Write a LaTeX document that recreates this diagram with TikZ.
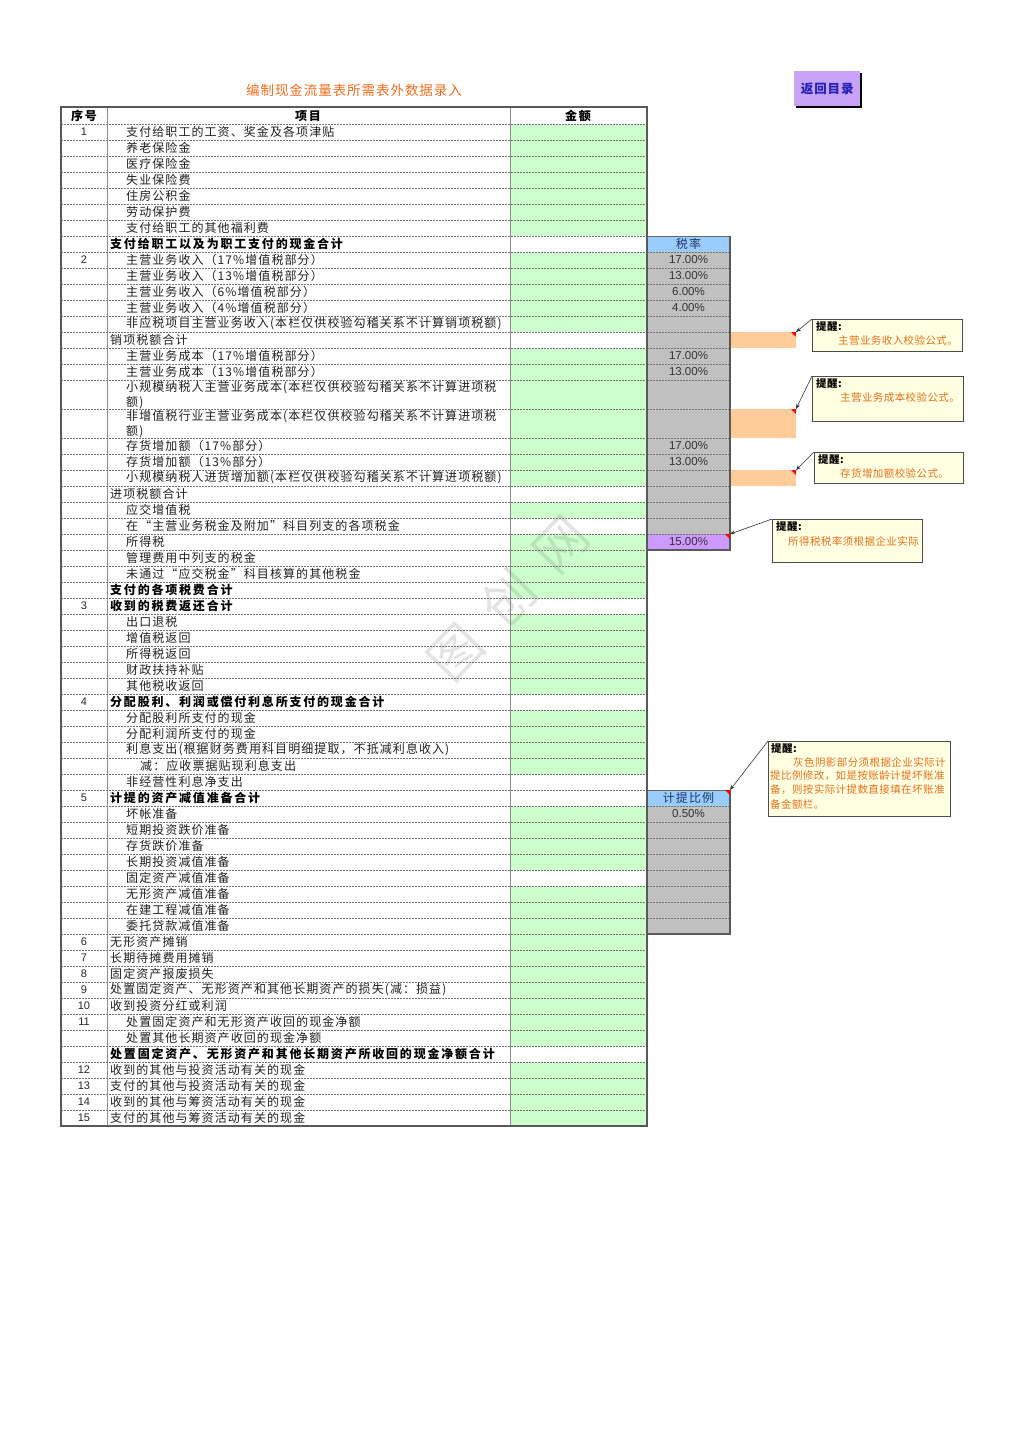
\documentclass[tikz,border=0pt]{standalone}
\usepackage{fontspec}
\setmainfont{Liberation Sans}
\newfontfamily\cjk{Noto Sans CJK SC}[LetterSpace=9]
\newfontfamily\cjkB{Noto Sans CJK SC}[LetterSpace=15]
\newfontfamily\cjkT{Noto Sans CJK SC}[LetterSpace=7]
\newfontfamily\cjkC{Noto Sans CJK SC}[LetterSpace=4]
\newfontfamily\cjkW{Noto Sans CJK SC}[LetterSpace=45]
\usetikzlibrary{arrows.meta}
\definecolor{amtgreen}{HTML}{CCFFCC}
\definecolor{taxgray}{HTML}{C0C0C0}
\definecolor{hdrblue}{HTML}{99CCFF}
\definecolor{purp}{HTML}{CC99FF}
\definecolor{btnpurp}{HTML}{C9A3F7}
\definecolor{orangecell}{HTML}{FFCC99}
\definecolor{titleor}{HTML}{F26B1D}
\definecolor{noteor}{HTML}{E5701E}
\definecolor{notebg}{HTML}{FFFFE1}
\definecolor{navy}{HTML}{1F3864}
\definecolor{btnblue}{HTML}{2222BB}
\tikzset{
  rowt/.style={anchor=west, inner sep=0pt, font=\cjk\fontsize{12}{15}\selectfont, text=black!88},
  rowtwo/.style={anchor=west, inner sep=0pt, align=left, font=\cjk\fontsize{12}{15}\selectfont, text=black!88},
  rowb/.style={anchor=west, inner sep=0pt, font=\cjkB\bfseries\fontsize{12}{15}\selectfont, text=black},
  numt/.style={inner sep=0pt, font=\fontsize{11}{12}\selectfont, text=black!85},
  hdrt/.style={inner sep=0pt, font=\cjkB\bfseries\fontsize{12}{13}\selectfont, text=black},
  pct/.style={inner sep=0pt, font=\fontsize{11.5}{13}\selectfont, text=black!80},
  colhdr/.style={inner sep=0pt, font=\cjk\fontsize{12}{13}\selectfont, text=navy},
  hline/.style={black!55, dash pattern=on 2pt off 1pt, line width=0.6pt},
  vline/.style={black!45, line width=0.8pt},
  frame/.style={black!65, line width=1.8pt},
  cbox/.style={draw=black!70, fill=notebg, line width=0.8pt, anchor=north west, inner sep=0pt},
  ctitle/.style={anchor=west, inner sep=0pt, font=\cjkC\bfseries\fontsize{10.5}{12}\selectfont, text=black},
  ctext/.style={anchor=west, inner sep=0pt, font=\cjkC\fontsize{10.5}{12}\selectfont, text=noteor},
  arr/.style={-{Stealth[length=5pt,width=4pt]}, black!80, line width=0.6pt},
  ind/.style={red}
}
\begin{document}
\begin{tikzpicture}[x=1pt,y=-1pt]
\useasboundingbox (0,0) rectangle (1024,1449);

% ---------- title and button ----------
\node[font=\cjkT\fontsize{13.5}{15}\selectfont, text=titleor, inner sep=0pt] (title) at (354,90) {编制现金流量表所需表外数据录入};
\fill[black] (796,73) rectangle (862,108);
\node[fill=btnpurp, minimum width=66pt, minimum height=35pt, inner sep=0pt, anchor=north west,
      font=\cjkT\bfseries\fontsize{12.5}{14}\selectfont, text=btnblue] (btn) at (794,71) {返回目录};

% ---------- fills ----------
\fill[amtgreen] (510,124) rectangle (647,1126);
\foreach \a/\b in {236/252,332/348,486/502,518/534,598/614,694/710,774/790,790/806,870/886,1046/1062}
  \fill[white] (510,\a) rectangle (647,\b);
% tax rate column
\fill[hdrblue] (647,236) rectangle (730,252);
\fill[taxgray] (647,252) rectangle (730,534);
\fill[purp] (647,534) rectangle (730,550);
% provision ratio column
\fill[hdrblue] (647,790) rectangle (730,806);
\fill[taxgray] (647,806) rectangle (730,934);
% orange check cells
\fill[orangecell] (730,332) rectangle (796,348);
\fill[orangecell] (730,409) rectangle (796,438);
\fill[orangecell] (730,470) rectangle (796,486);

% ---------- watermark ----------
\node[rotate=46, font=\cjkW\fontsize{52}{52}\selectfont, text=gray, opacity=0.22, inner sep=0pt] (wm) at (508,598) {图创网};

% ---------- grid lines ----------
\foreach \y in {124,140,...,380,409,438,454,470,...,1110}
  \draw[hline] (61,\y) -- (647,\y);
\foreach \y in {252,268,...,380,409,438,454,470,...,534,806,822,...,918}
  \draw[hline] (647,\y) -- (730,\y);
\draw[vline] (107,107) -- (107,1126);
\draw[vline] (510,107) -- (510,1126);
\draw[black!60, line width=0.6pt] (647,236) -- (730,236);
\draw[black!60, line width=0.6pt] (647,790) -- (730,790);
\draw[frame] (730,236) -- (730,550) -- (647,550);
\draw[frame] (730,790) -- (730,934) -- (647,934);
\draw[frame] (61,107) rectangle (647,1126);

% ---------- header ----------
\node[hdrt] (h1) at (84,116) {序号};
\node[hdrt] (h2) at (308,116) {项目};
\node[hdrt] (h3) at (578,116) {金额};
\node[colhdr] (h4) at (688.5,244) {税率};
\node[colhdr] (h5) at (688.5,798) {计提比例};

% ---------- numbers ----------
\node[numt] (n1) at (84,132) {1};
\node[numt] (n2) at (84,260) {2};
\node[numt] (n3) at (84,606) {3};
\node[numt] (n4) at (84,702) {4};
\node[numt] (n5) at (84,798) {5};
\node[numt] (n6) at (84,942) {6};
\node[numt] (n7) at (84,958) {7};
\node[numt] (n8) at (84,974) {8};
\node[numt] (n9) at (84,990) {9};
\node[numt] (n10) at (84,1006) {10};
\node[numt] (n11) at (84,1022) {11};
\node[numt] (n12) at (84,1070) {12};
\node[numt] (n13) at (84,1086) {13};
\node[numt] (n14) at (84,1102) {14};
\node[numt] (n15) at (84,1118) {15};

% ---------- items ----------
\node[rowt] (r1) at (126,132) {支付给职工的工资、奖金及各项津贴};
\node[rowt] (r2) at (126,148) {养老保险金};
\node[rowt] (r3) at (126,164) {医疗保险金};
\node[rowt] (r4) at (126,180) {失业保险费};
\node[rowt] (r5) at (126,196) {住房公积金};
\node[rowt] (r6) at (126,212) {劳动保护费};
\node[rowt] (r7) at (126,228) {支付给职工的其他福利费};
\node[rowb] (r8) at (110,244) {支付给职工以及为职工支付的现金合计};
\node[rowt] (r9) at (126,260) {主营业务收入（17\%增值税部分）};
\node[rowt] (r10) at (126,276) {主营业务收入（13\%增值税部分）};
\node[rowt] (r11) at (126,292) {主营业务收入（6\%增值税部分）};
\node[rowt] (r12) at (126,308) {主营业务收入（4\%增值税部分）};
\node[rowt] (r13) at (126,324) {非应税项目主营业务收入(本栏仅供校验勾稽关系不计算销项税额)};
\node[rowt] (r14) at (110,340) {销项税额合计};
\node[rowt] (r15) at (126,356) {主营业务成本（17\%增值税部分）};
\node[rowt] (r16) at (126,372) {主营业务成本（13\%增值税部分）};
\node[rowtwo] (r17) at (126,395) {小规模纳税人主营业务成本(本栏仅供校验勾稽关系不计算进项税\\额)};
\node[rowtwo] (r18) at (126,424) {非增值税行业主营业务成本(本栏仅供校验勾稽关系不计算进项税\\额)};
\node[rowt] (r19) at (126,446) {存货增加额（17\%部分）};
\node[rowt] (r20) at (126,462) {存货增加额（13\%部分）};
\node[rowt] (r21) at (126,478) {小规模纳税人进货增加额(本栏仅供校验勾稽关系不计算进项税额)};
\node[rowt] (r22) at (110,494) {进项税额合计};
\node[rowt] (r23) at (126,510) {应交增值税};
\node[rowt] (r24) at (126,526) {在“主营业务税金及附加”科目列支的各项税金};
\node[rowt] (r25) at (126,542) {所得税};
\node[rowt] (r26) at (126,558) {管理费用中列支的税金};
\node[rowt] (r27) at (126,574) {未通过“应交税金”科目核算的其他税金};
\node[rowb] (r28) at (110,590) {支付的各项税费合计};
\node[rowb] (r29) at (110,606) {收到的税费返还合计};
\node[rowt] (r30) at (126,622) {出口退税};
\node[rowt] (r31) at (126,638) {增值税返回};
\node[rowt] (r32) at (126,654) {所得税返回};
\node[rowt] (r33) at (126,670) {财政扶持补贴};
\node[rowt] (r34) at (126,686) {其他税收返回};
\node[rowb] (r35) at (110,702) {分配股利、利润或偿付利息所支付的现金合计};
\node[rowt] (r36) at (126,718) {分配股利所支付的现金};
\node[rowt] (r37) at (126,734) {分配利润所支付的现金};
\node[rowt] (r38) at (126,750) {利息支出(根据财务费用科目明细提取，不抵减利息收入)};
\node[rowt] (r39) at (140,766) {减：应收票据贴现利息支出};
\node[rowt] (r40) at (126,782) {非经营性利息净支出};
\node[rowb] (r41) at (110,798) {计提的资产减值准备合计};
\node[rowt] (r42) at (126,814) {坏帐准备};
\node[rowt] (r43) at (126,830) {短期投资跌价准备};
\node[rowt] (r44) at (126,846) {存货跌价准备};
\node[rowt] (r45) at (126,862) {长期投资减值准备};
\node[rowt] (r46) at (126,878) {固定资产减值准备};
\node[rowt] (r47) at (126,894) {无形资产减值准备};
\node[rowt] (r48) at (126,910) {在建工程减值准备};
\node[rowt] (r49) at (126,926) {委托贷款减值准备};
\node[rowt] (r50) at (110,942) {无形资产摊销};
\node[rowt] (r51) at (110,958) {长期待摊费用摊销};
\node[rowt] (r52) at (110,974) {固定资产报废损失};
\node[rowt] (r53) at (110,990) {处置固定资产、无形资产和其他长期资产的损失(减：损益)};
\node[rowt] (r54) at (110,1006) {收到投资分红或利润};
\node[rowt] (r55) at (126,1022) {处置固定资产和无形资产收回的现金净额};
\node[rowt] (r56) at (126,1038) {处置其他长期资产收回的现金净额};
\node[rowb] (r57) at (110,1054) {处置固定资产、无形资产和其他长期资产所收回的现金净额合计};
\node[rowt] (r58) at (110,1070) {收到的其他与投资活动有关的现金};
\node[rowt] (r59) at (110,1086) {支付的其他与投资活动有关的现金};
\node[rowt] (r60) at (110,1102) {收到的其他与筹资活动有关的现金};
\node[rowt] (r61) at (110,1118) {支付的其他与筹资活动有关的现金};

% ---------- rates ----------
\node[pct] (p1) at (688.5,260) {17.00\%};
\node[pct] (p2) at (688.5,276) {13.00\%};
\node[pct] (p3) at (688.5,292) {6.00\%};
\node[pct] (p4) at (688.5,308) {4.00\%};
\node[pct] (p5) at (688.5,356) {17.00\%};
\node[pct] (p6) at (688.5,372) {13.00\%};
\node[pct] (p7) at (688.5,446) {17.00\%};
\node[pct] (p8) at (688.5,462) {13.00\%};
\node[pct] (p9) at (688.5,542) {15.00\%};
\node[pct] (p10) at (688.5,814) {0.50\%};

% ---------- comment indicators ----------
\coordinate (t1) at (796,332);
\coordinate (t2) at (796,409);
\coordinate (t3) at (796,470);
\coordinate (t4) at (730,534);
\coordinate (t5) at (730,790);
\foreach \t in {t1,t2,t3,t4,t5}
  \fill[ind] (\t) -- ++(-5,0) -- ++(5,5) -- cycle;

% ---------- comments ----------
\node[cbox, minimum width=150pt, minimum height=32pt] (c1) at (812,319) {};
\node[ctitle] (c1a) at (816,326) {提醒:};
\node[ctext] (c1b) at (838,340) {主营业务收入校验公式。};
\draw[arr] (c1.north west) -- (t1);

\node[cbox, minimum width=151pt, minimum height=45pt] (c2) at (812,376) {};
\node[ctitle] (c2a) at (816,383) {提醒:};
\node[ctext] (c2b) at (840,398) {主营业务成本校验公式。};
\draw[arr] (c2.north west) -- (t2);

\node[cbox, minimum width=149pt, minimum height=31pt] (c3) at (814,452) {};
\node[ctitle] (c3a) at (818,459) {提醒:};
\node[ctext] (c3b) at (840,473) {存货增加额校验公式。};
\draw[arr] (c3.north west) -- (t3);

\node[cbox, minimum width=150pt, minimum height=43pt] (c4) at (772,519) {};
\node[ctitle] (c4a) at (776,526) {提醒:};
\node[ctext] (c4b) at (788,541) {所得税税率须根据企业实际};
\draw[arr] (c4.north west) -- (t4);

\node[cbox, minimum width=182pt, minimum height=75pt] (c5) at (768,741) {};
\node[ctitle] (c5a) at (771,748) {提醒:};
\node[ctext] (c5b) at (793,762) {灰色阴影部分须根据企业实际计};
\node[ctext] (c5c) at (770,776) {提比例修改，如是按账龄计提坏账准};
\node[ctext] (c5d) at (770,790) {备，则按实际计提数直接填在坏账准};
\node[ctext] (c5e) at (770,804) {备金额栏。};
\draw[arr] (c5.north west) -- (t5);
\end{tikzpicture}
\end{document}
